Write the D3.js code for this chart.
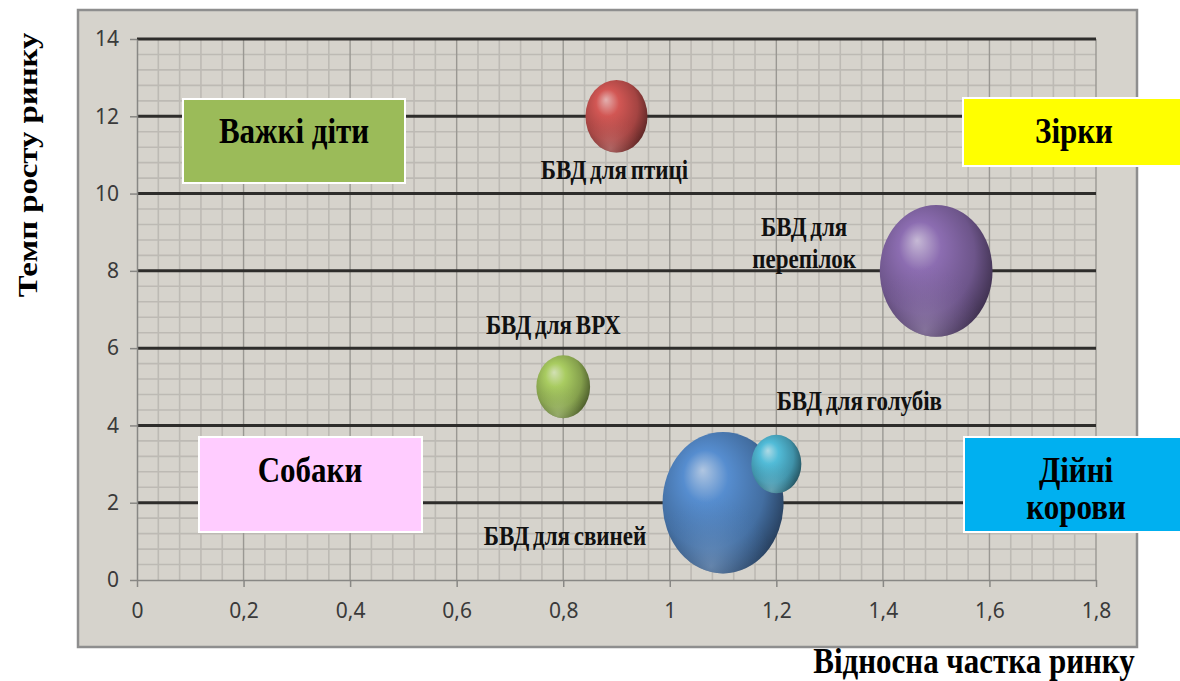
<!DOCTYPE html>
<html>
<head>
<meta charset="utf-8">
<script src="https://cdn.jsdelivr.net/npm/d3@7/dist/d3.min.js"></script>
<style>
  html, body { margin: 0; padding: 0; background: #ffffff; }
  svg { display: block; }
</style>
</head>
<body>
<svg id="chart" width="1180" height="681"></svg>
<script>
// ---- data ----
const seriesNames  = ["БВД для птиці", "БВД для перепілок", "БВД для ВРХ", "БВД для свиней", "БВД для голубів"];
const shareValues  = [0.9, 1.5, 0.8, 1.1, 1.2];   // відносна частка ринку
const growthValues = [12, 8, 5, 2, 3];            // темп росту ринку
const sizeValues   = [10, 33, 7.5, 38, 6.5];      // обсяг (розмір бульбашки)
const seriesColors = ["#C0504D", "#8064A2", "#9BBB59", "#4F81BD", "#4BACC6"];

const xTickValues = [0, 0.2, 0.4, 0.6, 0.8, 1, 1.2, 1.4, 1.6, 1.8];
const xTickLabels = ["0", "0,2", "0,4", "0,6", "0,8", "1", "1,2", "1,4", "1,6", "1,8"];
const yTickValues = [0, 2, 4, 6, 8, 10, 12, 14];
const yTickLabels = ["0", "2", "4", "6", "8", "10", "12", "14"];

const quadrantNames  = ["Важкі діти", "Зірки", "Собаки", "Дійні\nкорови"];
const quadrantColors = ["#9BBB59", "#FFFF00", "#FFCCFF", "#00B0F0"];

const xTitle = "Відносна частка ринку";
const yTitle = "Темп росту ринку";

// ---- layout ----
const frame = { x: 78, y: 10, w: 1059, h: 637 };
const plot  = { left: 137, right: 1096, top: 39, bottom: 580 };
const stretch = 1.17;   // vertical stretch of glyphs and bubbles

// label placement relative to bubble centre (px), one entry per series
const labelLayout = [
  { dx: -2,   lines: [54] },
  { dx: -132, lines: [-44, -12], split: true },
  { dx: -10,  lines: [-62] },
  { dx: -158, lines: [33] },
  { dx: 83,   lines: [-63] }
];

const quadrantLayout = [
  { x: 183, y: 99,  w: 222, h: 84, cx: 294,  lines: [131] },
  { x: 963, y: 98,  w: 230, h: 68, cx: 1074, lines: [131] },
  { x: 199, y: 437, w: 223, h: 95, cx: 310,  lines: [470] },
  { x: 964, y: 437, w: 230, h: 95, cx: 1076, lines: [470, 507] }
];

const svg = d3.select("#chart");
const defs = svg.append("defs");

const x = d3.scaleLinear().domain([0, 1.8]).range([plot.left, plot.right]);
const y = d3.scaleLinear().domain([0, 14]).range([plot.bottom, plot.top]);
const r = d3.scaleSqrt().domain([0, 38]).range([0, 60.5]);

// chart area
svg.append("rect")
  .attr("x", frame.x).attr("y", frame.y)
  .attr("width", frame.w).attr("height", frame.h)
  .attr("fill", "#D6D3CC")
  .attr("stroke", "#8E8E8E").attr("stroke-width", 2.5);

const grid = svg.append("g");

// minor gridlines
grid.selectAll("line.vminor")
  .data(d3.range(1, 45).map(i => i * 0.04).filter(v => Math.abs(v / 0.2 - Math.round(v / 0.2)) > 1e-6))
  .join("line")
  .attr("x1", d => x(d)).attr("x2", d => x(d))
  .attr("y1", plot.top).attr("y2", plot.bottom)
  .attr("stroke", "#BDBAB4").attr("stroke-width", 1.6);

grid.selectAll("line.hminor")
  .data(d3.range(1, 35).map(i => i * 0.4).filter(v => Math.abs(v / 2 - Math.round(v / 2)) > 1e-6))
  .join("line")
  .attr("x1", plot.left).attr("x2", plot.right)
  .attr("y1", d => y(d)).attr("y2", d => y(d))
  .attr("stroke", "#BDBAB4").attr("stroke-width", 1.6);

// major vertical gridlines
grid.selectAll("line.vmajor")
  .data(xTickValues.slice(1))
  .join("line")
  .attr("x1", d => x(d)).attr("x2", d => x(d))
  .attr("y1", plot.top).attr("y2", plot.bottom)
  .attr("stroke", "#9A9893").attr("stroke-width", 1.4);

// major horizontal gridlines
grid.selectAll("line.hmajor")
  .data(yTickValues.slice(1))
  .join("line")
  .attr("x1", plot.left).attr("x2", plot.right)
  .attr("y1", d => y(d)).attr("y2", d => y(d))
  .attr("stroke", "#2E2D2B").attr("stroke-width", 3);

// axes
const tickFont = "'Noto Sans', 'Open Sans', sans-serif";
const xAxis = d3.axisBottom(x).tickValues(xTickValues)
  .tickFormat((d, i) => xTickLabels[i]).tickSize(7).tickSizeOuter(0).tickPadding(16);
const yAxis = d3.axisLeft(y).tickValues(yTickValues)
  .tickFormat((d, i) => yTickLabels[i]).tickSize(7).tickSizeOuter(0).tickPadding(11);

const gx = svg.append("g").attr("transform", `translate(0,${plot.bottom})`).call(xAxis);
const gy = svg.append("g").attr("transform", `translate(${plot.left},0)`).call(yAxis);
[gx, gy].forEach(g => {
  g.attr("font-size", null).attr("font-family", null);
  g.select(".domain").attr("stroke", "#888784").attr("stroke-width", 1.5);
  g.selectAll(".tick line").attr("stroke", "#888784").attr("stroke-width", 1.5);
  g.selectAll(".tick text")
    .attr("fill", "#3A3A3A")
    .style("font-family", tickFont)
    .style("font-size", "21px");
});

// quadrant captions
const serif = "'Liberation Serif', 'Times New Roman', serif";
const quad = svg.append("g");
quadrantNames.forEach((name, i) => {
  const L = quadrantLayout[i];
  quad.append("rect")
    .attr("x", L.x).attr("y", L.y).attr("width", L.w).attr("height", L.h)
    .attr("fill", quadrantColors[i])
    .attr("stroke", "#FFFFFF").attr("stroke-width", 2);
  name.split("\n").forEach((line, j) => {
    quad.append("text")
      .attr("transform", `translate(${L.cx},${L.lines[j]}) scale(1,${stretch})`)
      .attr("text-anchor", "middle")
      .attr("dominant-baseline", "central")
      .style("font-family", serif).style("font-weight", "bold")
      .style("font-size", "31px")
      .attr("fill", "#000")
      .text(line);
  });
});

// bubble gradients
seriesColors.forEach((c, i) => {
  const base = d3.color(c);
  const g = defs.append("radialGradient")
    .attr("id", "bub" + i)
    .attr("cx", "0.42").attr("cy", "0.42").attr("r", "0.62")
    .attr("fx", "0.33").attr("fy", "0.27");
  g.append("stop").attr("offset", "0").attr("stop-color", d3.interpolateRgb(c, "#ffffff")(0.55));
  g.append("stop").attr("offset", "0.3").attr("stop-color", base.brighter(0.25).formatHex());
  g.append("stop").attr("offset", "0.72").attr("stop-color", base.darker(0.45).formatHex());
  g.append("stop").attr("offset", "1").attr("stop-color", base.darker(2).formatHex());

  const rim = defs.append("radialGradient")
    .attr("id", "rim" + i)
    .attr("cx", "0.4").attr("cy", "0.95").attr("r", "0.5");
  rim.append("stop").attr("offset", "0").attr("stop-color", d3.interpolateRgb(c, "#ffffff")(0.35)).attr("stop-opacity", 0.55);
  rim.append("stop").attr("offset", "1").attr("stop-color", c).attr("stop-opacity", 0);
});

// bubbles
const bubbles = svg.append("g");
seriesNames.forEach((name, i) => {
  const cx = x(shareValues[i]), cy = y(growthValues[i]);
  const rx = r(sizeValues[i]), ry = rx * stretch;
  bubbles.append("ellipse")
    .attr("cx", cx).attr("cy", cy).attr("rx", rx).attr("ry", ry)
    .attr("fill", `url(#bub${i})`);
  bubbles.append("ellipse")
    .attr("cx", cx).attr("cy", cy).attr("rx", rx).attr("ry", ry)
    .attr("fill", `url(#rim${i})`);
});

// bubble labels
const labels = svg.append("g");
seriesNames.forEach((name, i) => {
  const L = labelLayout[i];
  const cx = x(shareValues[i]), cy = y(growthValues[i]);
  const parts = L.split ? ["БВД для", name.replace("БВД для ", "")] : [name];
  parts.forEach((line, j) => {
    labels.append("text")
      .attr("transform", `translate(${cx + L.dx},${cy + L.lines[j]}) scale(1,${stretch})`)
      .attr("text-anchor", "middle")
      .attr("dominant-baseline", "central")
      .style("font-family", serif).style("font-weight", "bold")
      .style("font-size", "23px")
      .style("word-spacing", "-2px")
      .attr("fill", "#111")
      .text(line);
  });
});

// axis titles
svg.append("text")
  .attr("transform", `translate(974,661) scale(1,${stretch})`)
  .attr("text-anchor", "middle")
  .attr("dominant-baseline", "central")
  .style("font-family", serif).style("font-weight", "bold")
  .style("font-size", "31px")
  .attr("fill", "#000")
  .text(xTitle);

svg.append("text")
  .attr("transform", `translate(28,165) rotate(-90) scale(${stretch},1)`)
  .attr("text-anchor", "middle")
  .attr("dominant-baseline", "central")
  .style("font-family", serif).style("font-weight", "bold")
  .style("font-size", "28px")
  .attr("fill", "#000")
  .text(yTitle);
</script>
</body>
</html>
